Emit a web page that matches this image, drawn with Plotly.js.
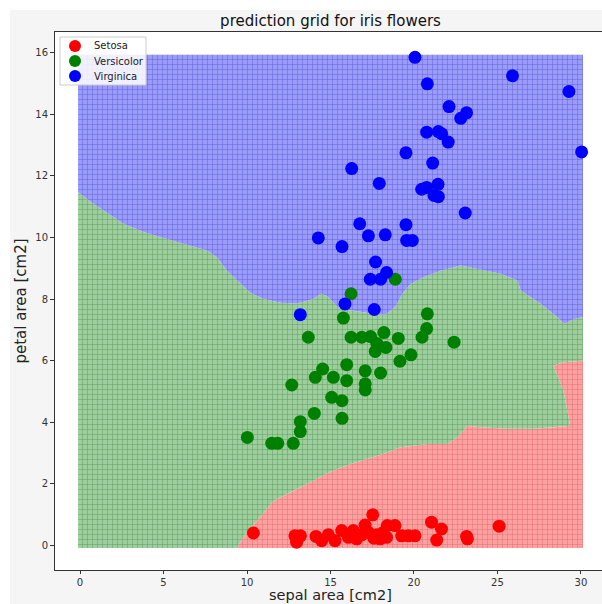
<!DOCTYPE html>
<html>
<head>
<meta charset="utf-8">
<script src="https://cdn.plot.ly/plotly-3.0.1.min.js"></script>
<style>
  html, body { margin: 0; padding: 0; background: #ffffff; overflow: hidden; }
  #chart { width: 610px; height: 604px; }
</style>
</head>
<body>
<div id="chart"></div>
<script>
// Iris samples: sepal area vs petal area (cm2)
const setosaX = [10.38, 12.87, 12.97, 13.2, 14.13, 14.47, 14.87, 15.27, 15.67, 16.07, 16.37, 16.57, 16.87, 17.07, 17.27, 17.53, 17.6, 17.77, 17.96, 18.16, 18.36, 18.4, 18.86, 19.26, 19.66, 20.06, 21.05, 21.36, 21.65, 23.15, 23.2, 25.1];
const setosaY = [0.41, 0.32, 0.11, 0.32, 0.30, 0.16, 0.35, 0.16, 0.49, 0.27, 0.49, 0.22, 0.35, 0.67, 0.43, 1.0, 0.24, 0.35, 0.22, 0.43, 0.27, 0.65, 0.65, 0.32, 0.32, 0.32, 0.76, 0.18, 0.54, 0.30, 0.22, 0.63];

const versicolorX = [20.8, 20.76, 20.48, 22.4, 13.67, 16.23, 16.87, 17.4, 18.2, 17.77, 18.32, 17.68, 19.06, 19.82, 19.16, 15.97, 14.53, 14.09, 15.17, 15.97, 17.08, 18.0, 17.08, 17.08, 12.68, 15.07, 15.69, 14.03, 15.69, 13.19, 13.19, 10.02, 11.48, 11.84, 12.77, 18.88, 16.23, 15.77];
const versicolorY = [7.52, 7.04, 6.76, 6.6, 6.76, 6.76, 6.76, 6.78, 6.91, 6.56, 6.43, 6.30, 6.72, 6.19, 5.98, 5.87, 5.73, 5.46, 5.46, 5.35, 5.67, 5.60, 5.25, 5.05, 5.21, 4.81, 4.70, 4.29, 4.13, 4.02, 3.70, 3.51, 3.32, 3.32, 3.32, 8.64, 8.17, 7.38];

const virginicaX = [20.06, 25.9, 29.28, 20.8, 22.1, 23.15, 22.8, 20.76, 21.46, 21.66, 22.05, 30.04, 19.52, 21.12, 16.27, 17.92, 20.46, 20.76, 21.44, 21.2, 21.46, 23.07, 16.75, 19.52, 14.27, 15.69, 17.27, 18.28, 19.56, 19.9, 17.7, 18.36, 17.38, 18.0, 15.87, 17.62, 13.19];
const virginicaY = [15.84, 15.24, 14.73, 14.98, 14.24, 14.04, 13.86, 13.41, 13.43, 13.36, 13.09, 12.77, 12.74, 12.41, 12.23, 11.75, 11.56, 11.62, 11.72, 11.36, 11.32, 10.79, 10.44, 10.41, 9.98, 9.70, 10.05, 10.08, 9.90, 9.90, 9.20, 8.86, 8.64, 8.64, 7.84, 7.66, 7.49];

// Extent of the prediction grid
const gridX = [-0.12, 30.12];
const gridY = [-0.08, 15.92];

// Decision boundary between Versicolor (below) and Virginica (above)
const bgX = [-0.12, 0.8, 2.6, 3.8, 5.2, 6.2, 7.6, 8.2, 8.8, 9.6, 10.2, 11.0, 12.0, 13.0, 14.0, 14.4, 14.8, 15.4, 16.0, 16.6, 17.2, 17.8, 18.3, 18.9, 19.3, 19.8, 20.6, 21.6, 22.8, 23.8, 25.2, 26.2, 26.4, 27.6, 28.6, 29.0, 29.6, 30.12];
const bgY = [11.46, 11.09, 10.44, 10.17, 9.95, 9.79, 9.57, 9.35, 8.92, 8.5, 8.2, 8.0, 7.88, 7.85, 8.0, 8.17, 8.1, 7.75, 7.65, 7.6, 7.55, 7.5, 7.5, 7.75, 8.17, 8.49, 8.71, 8.92, 9.09, 8.98, 8.82, 8.6, 8.27, 7.84, 7.41, 7.19, 7.35, 7.41];

// Decision boundary between Setosa (below/right) and Versicolor
const rgX = [9.38, 10.0, 10.78, 11.6, 12.8, 14.0, 15.0, 16.2, 18.2, 19.2, 20.8, 22.0, 22.6, 23.2, 24.0, 25.6, 27.2, 28.4, 29.35, 29.15, 28.95, 28.55, 28.35, 28.95, 29.75, 30.12];
const rgY = [-0.08, 0.45, 0.92, 1.46, 1.78, 2.11, 2.4, 2.65, 2.98, 3.19, 3.3, 3.3, 3.51, 3.89, 3.84, 3.79, 3.79, 3.84, 3.89, 4.49, 5.03, 5.57, 5.84, 5.95, 6.0, 6.0];

const classNames = ['Setosa', 'Versicolor', 'Virginica'];
const classColors = ['#ff0000', '#008000', '#0000ff'];
const regionFill = ['rgb(255,160,160)', 'rgb(158,206,158)', 'rgb(155,155,250)'];
const regionMesh = ['rgba(190,70,70,0.5)', 'rgba(40,115,40,0.5)', 'rgba(50,50,185,0.5)'];

const rev = a => a.slice().reverse();

// Region polygons assembled from the boundaries and the grid extent
const redPolyX = rgX.concat([gridX[1], rgX[0]]);
const redPolyY = rgY.concat([gridY[0], gridY[0]]);

const greenPolyX = [gridX[0]].concat(rgX, rev(bgX));
const greenPolyY = [gridY[0]].concat(rgY, rev(bgY));

const bluePolyX = bgX.concat([gridX[1], gridX[0]]);
const bluePolyY = bgY.concat([gridY[1], gridY[1]]);

function region(px, py, i) {
  return {
    type: 'scatter', mode: 'lines', x: px, y: py,
    fill: 'toself', fillcolor: regionFill[i],
    fillpattern: { shape: '+', size: 5, solidity: 0.2, fgcolor: regionMesh[i], bgcolor: regionFill[i], fillmode: 'replace' },
    line: { width: 0, color: regionFill[i] },
    hoverinfo: 'skip', showlegend: false
  };
}

function samples(xs, ys, i) {
  return {
    type: 'scatter', mode: 'markers', x: xs, y: ys, name: classNames[i],
    marker: { size: 13, color: classColors[i], line: { width: 0 } },
    showlegend: false
  };
}

const data = [
  region(redPolyX, redPolyY, 0),
  region(greenPolyX, greenPolyY, 1),
  region(bluePolyX, bluePolyY, 2),
  samples(setosaX, setosaY, 0),
  samples(versicolorX, versicolorY, 1),
  samples(virginicaX, virginicaY, 2)
];

const font = 'DejaVu Sans, sans-serif';

// Helpers: pixel offsets inside the axes box -> paper coordinates
const plotW = 551, plotH = 538;
const px = p => p / plotW;          // from left edge of the axes
const py = p => 1 - p / plotH;      // from top edge of the axes

// Compact legend box in the upper-left corner of the axes
const legendShapes = [
  { type: 'rect', xref: 'paper', yref: 'paper', x0: px(5), x1: px(91), y0: py(5), y1: py(53),
    fillcolor: 'rgba(255,255,255,0.85)', line: { color: '#cccccc', width: 1 }, layer: 'above' }
];
const notes = [];
classNames.forEach((name, i) => {
  const cy = 14 + i * 15;
  legendShapes.push({ type: 'circle', xref: 'paper', yref: 'paper',
    x0: px(14), x1: px(26), y0: py(cy + 6), y1: py(cy - 6),
    fillcolor: classColors[i], line: { width: 0 }, layer: 'above' });
  notes.push({ xref: 'paper', yref: 'paper', x: px(37), y: py(cy), xanchor: 'left', yanchor: 'middle',
    text: name, showarrow: false, font: { family: font, size: 10, color: '#222222' } });
});

// x-axis title, sitting on the bottom edge of the figure below the tick labels
notes.push({ xref: 'paper', yref: 'paper', x: 0.5, y: py(plotH + 34), xanchor: 'center', yanchor: 'bottom',
  borderpad: 0, text: 'sepal area [cm2]', showarrow: false, font: { family: font, size: 14.5, color: '#222222' } });

const layout = {
  width: 610, height: 604,
  margin: { l: 55, r: 4, t: 32, b: 34 },
  paper_bgcolor: '#f5f5f5',
  plot_bgcolor: '#ffffff',
  font: { family: font, color: '#333333', size: 10 },
  title: {
    text: 'prediction grid for iris flowers',
    font: { family: font, size: 15, color: '#111111' },
    x: 0.5, xref: 'paper', y: 0.966, yref: 'container', yanchor: 'middle'
  },
  xaxis: {
    range: [-1.5, 31.5], tickvals: [0, 5, 10, 15, 20, 25, 30],
    showgrid: false, zeroline: false,
    showline: true, mirror: true, linecolor: '#333333', linewidth: 1,
    ticks: 'outside', ticklen: 3, tickcolor: '#333333', ticklabelstandoff: 0,
    tickfont: { family: font, size: 10, color: '#333333' }
  },
  yaxis: {
    range: [-0.79, 16.66], tickvals: [0, 2, 4, 6, 8, 10, 12, 14, 16],
    showgrid: false, zeroline: false,
    showline: true, mirror: true, linecolor: '#333333', linewidth: 1,
    ticks: 'outside', ticklen: 4, tickcolor: '#333333',
    tickfont: { family: font, size: 10, color: '#333333' },
    title: { text: 'petal area [cm2]', font: { family: font, size: 15, color: '#222222' }, standoff: 5 }
  },
  shapes: [
    { type: 'rect', xref: 'paper', yref: 'paper', x0: -0.12, x1: -0.0817, y0: -0.1, y1: 1.1, fillcolor: '#ffffff', line: { width: 0 }, layer: 'below' },
    { type: 'rect', xref: 'paper', yref: 'paper', x0: -0.12, x1: 1.1, y0: 1.041, y1: 1.1, fillcolor: '#ffffff', line: { width: 0 }, layer: 'below' }
  ].concat(legendShapes),
  annotations: notes,
  showlegend: false
};

Plotly.newPlot('chart', data, layout, { displayModeBar: false, staticPlot: true });
</script>
</body>
</html>
